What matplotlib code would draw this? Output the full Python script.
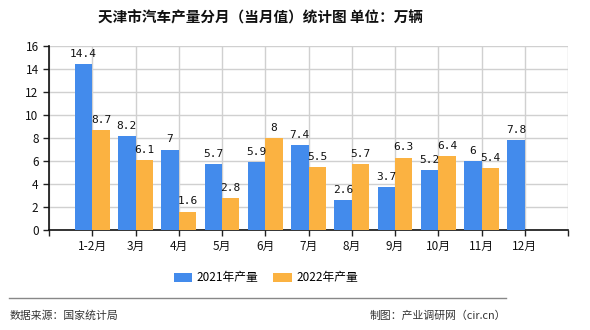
import matplotlib
matplotlib.use("Agg")
import matplotlib.pyplot as plt
import numpy as np

plt.rcParams['font.family'] = ['Noto Sans CJK SC', 'DejaVu Sans']

title = "天津市汽车产量分月（当月值）统计图 单位：万辆"
months = ["1-2月", "3月", "4月", "5月", "6月", "7月", "8月", "9月", "10月", "11月", "12月"]
s2021 = [14.4, 8.2, 7, 5.7, 5.9, 7.4, 2.6, 3.7, 5.2, 6, 7.8]
s2022 = [8.7, 6.1, 1.6, 2.8, 8, 5.5, 5.7, 6.3, 6.4, 5.4, None]
series_names = ["2021年产量", "2022年产量"]
source_text = "数据来源：国家统计局"
credit_text = "制图：产业调研网（cir.cn）"

blue = "#438BEC"
orange = "#FBB241"

fig = plt.figure(figsize=(5.9, 3.3), dpi=100)
ax = fig.add_axes([49 / 590, 100 / 330, (568 - 49) / 590, (230 - 46) / 330])

x = np.arange(1, len(months) + 1)
w = 0.4
bars = []
for vals, col, off, name in [(s2021, blue, -w / 2, series_names[0]),
                             (s2022, orange, w / 2, series_names[1])]:
    xs = [xi + off for xi, v in zip(x, vals) if v is not None]
    vs = [v for v in vals if v is not None]
    b = ax.bar(xs, vs, width=w, color=col, label=name, zorder=3)
    bars.append(b)
    for xi, v in zip(xs, vs):
        ax.text(xi, v + 0.45, f"{v:g}", ha="center", va="bottom",
                fontsize=8, family="DejaVu Sans Mono", color="#111111", zorder=4)

ax.set_xlim(0, 12)
ax.set_ylim(0, 16)
ax.set_yticks(np.arange(0, 17, 2))
ax.set_xticks(np.arange(0, 13))
ax.set_xticklabels([""] + months + [""])
ax.tick_params(axis="both", labelsize=8.5, length=4, width=1, color="#222222",
               labelcolor="#111111")
ax.tick_params(axis="x", pad=3)
ax.grid(True, color="#d0d0d0", linewidth=1, zorder=0)
for s in ["top", "right"]:
    ax.spines[s].set_visible(False)
for s in ["left", "bottom"]:
    ax.spines[s].set_color("#111111")
    ax.spines[s].set_linewidth(1.2)

fig.text(260 / 590, 1 - 18 / 330, title, ha="center", va="center", fontsize=10.5,
         fontweight="bold", color="#111111")

fig.legend(handles=bars, labels=series_names, loc="center", bbox_to_anchor=(266 / 590, 1 - 278 / 330),
           ncol=2, frameon=False, fontsize=8.5, handlelength=1.55, handleheight=0.8,
           columnspacing=1.25, handletextpad=0.4)

fig.add_artist(plt.Line2D([9 / 590, 506 / 590], [1 - 298 / 330, 1 - 298 / 330],
                          color="#888888", linewidth=1))
fig.text(10 / 590, 1 - 316 / 330, source_text, ha="left", va="center", fontsize=7.8, color="#333333")
fig.text(506 / 590, 1 - 316 / 330, credit_text, ha="right", va="center", fontsize=7.8, color="#333333")

fig.savefig("out.png", dpi=100)
